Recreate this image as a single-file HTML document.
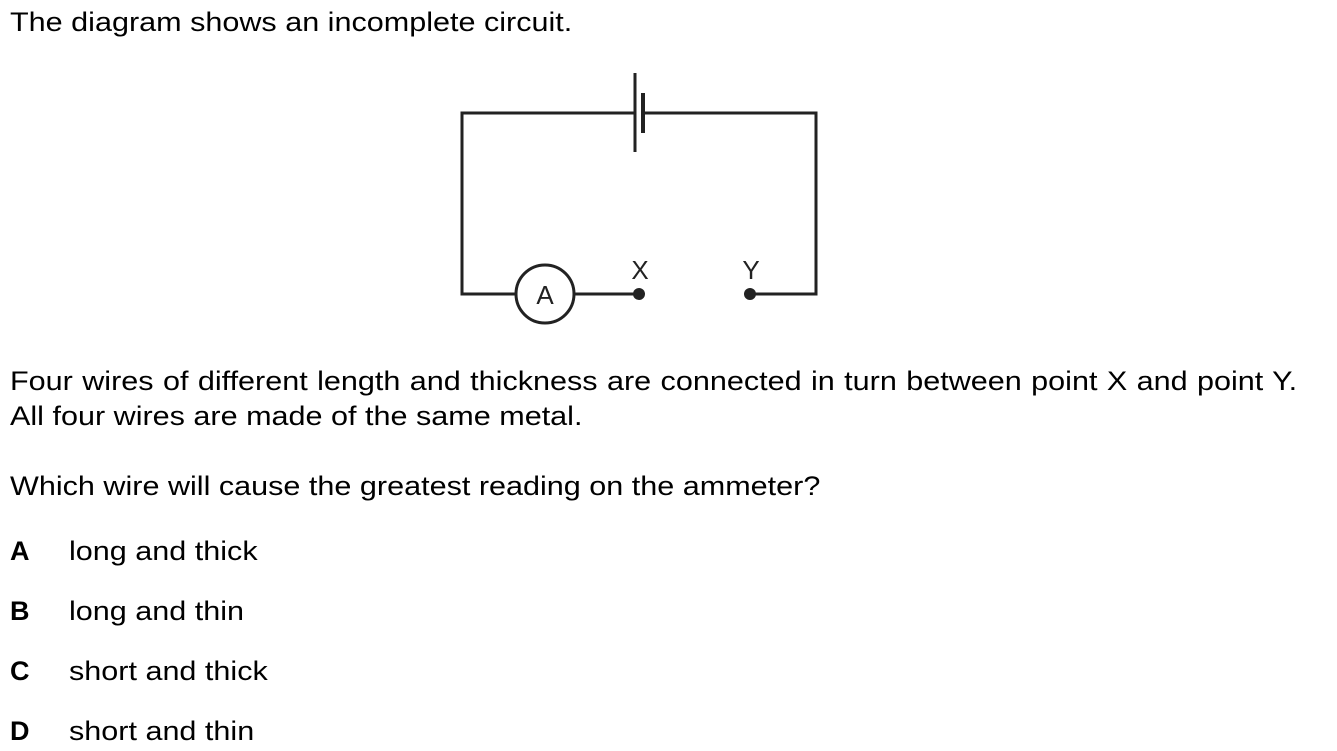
<!DOCTYPE html>
<html><head><style>
body{margin:0;width:1337px;height:751px;background:#fff;position:relative;overflow:hidden;font-family:"Liberation Sans",Arial,sans-serif;font-size:27px;color:#000}
.t{position:absolute;left:10px;white-space:nowrap;line-height:1;transform:scaleX(1.132);transform-origin:0 0}
.o{position:absolute;left:10px;line-height:1;white-space:nowrap}
.o b{display:inline-block;width:59px}
.o span{display:inline-block;transform:scaleX(1.132);transform-origin:0 0}
</style></head><body>
<div class="t" style="top:9px">The diagram shows an incomplete circuit.</div>
<svg style="position:absolute;left:0;top:0" width="1337" height="751">
<g stroke="#222" stroke-width="3" fill="none">
<polyline points="635,113 462,113 462,294 517,294"/>
<polyline points="643,113 816,113 816,294 750,294"/>
<line x1="573" y1="294" x2="639" y2="294"/>
<line x1="635" y1="73" x2="635" y2="152"/>
<line x1="643" y1="93" x2="643" y2="133" stroke-width="4"/>
<circle cx="545" cy="294" r="29"/>
</g>
<circle cx="639" cy="294" r="6" fill="#222"/>
<circle cx="750" cy="294" r="6" fill="#222"/>
<text x="545" y="304" font-size="26" text-anchor="middle" fill="#222" font-family="Liberation Sans,Arial,sans-serif">A</text>
<text x="640" y="279" font-size="26" text-anchor="middle" fill="#222" font-family="Liberation Sans,Arial,sans-serif">X</text>
<text x="751" y="279" font-size="26" text-anchor="middle" fill="#222" font-family="Liberation Sans,Arial,sans-serif">Y</text>
</svg>
<div class="t" style="top:368px;width:1137px;white-space:normal;text-align:justify;text-align-last:justify">Four wires of different length and thickness are connected in turn between point X and point Y.</div>
<div class="t" style="top:403px">All four wires are made of the same metal.</div>
<div class="t" style="top:473px">Which wire will cause the greatest reading on the ammeter?</div>
<div class="o" style="top:538px"><b>A</b><span>long and thick</span></div>
<div class="o" style="top:598px"><b>B</b><span>long and thin</span></div>
<div class="o" style="top:658px"><b>C</b><span>short and thick</span></div>
<div class="o" style="top:718px"><b>D</b><span>short and thin</span></div>
</body></html>
